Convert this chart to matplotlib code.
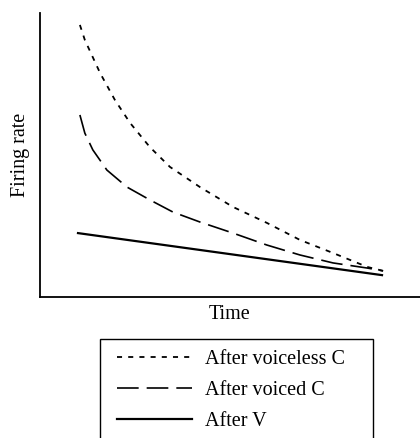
import matplotlib
matplotlib.use("Agg")
import matplotlib.pyplot as plt
from matplotlib.patches import Rectangle

# Data (arbitrary units, 0-100 scale)
voiceless_time = [10.5, 11.8, 15.8, 19.7, 23.7, 28.9, 34.2, 42.1, 50.8, 59.7, 68.4, 77.1, 86.1, 90.3]
voiceless_rate = [95.8, 90.5, 78.9, 69.4, 61.3, 52.8, 45.8, 38.7, 31.7, 26.1, 20.1, 15.5, 10.6, 9.2]
voiced_time = [10.5, 11.8, 13.9, 17.6, 22.9, 28.9, 35.0, 42.1, 50.8, 59.7, 68.4, 77.1, 86.1, 90.3]
voiced_rate = [64.1, 57.7, 51.8, 44.7, 38.7, 34.2, 29.9, 26.4, 22.5, 18.3, 14.8, 12.0, 10.2, 9.2]
vowel_time = [10.0, 90.0]
vowel_rate = [22.5, 7.7]
labels = ["After voiceless C", "After voiced C", "After V"]

plt.rcParams['font.family'] = ['Liberation Serif', 'DejaVu Serif']
FS = 14.5

fig = plt.figure(figsize=(4.2, 4.38), dpi=100)
ax = fig.add_axes([40/420, 141/438, 380/420, 284/438])

l1, = ax.plot(voiceless_time, voiceless_rate, color='black', lw=1.3,
              linestyle=(0, (2.8, 3.4)), label=labels[0])
l2, = ax.plot(voiced_time, voiced_rate, color='black', lw=1.2,
              linestyle=(0, (13, 4.8)), label=labels[1])
l3, = ax.plot(vowel_time, vowel_rate, color='black', lw=1.6,
              linestyle='-', label=labels[2])

ax.set_xlim(0, 100)
ax.set_ylim(0, 100)
ax.spines['top'].set_visible(False)
ax.spines['right'].set_visible(False)
ax.spines['left'].set_linewidth(1.3)
ax.spines['bottom'].set_linewidth(1.3)
ax.set_xticks([])
ax.set_yticks([])
ax.set_xlabel("Time", fontsize=FS, labelpad=6)
ax.set_ylabel("Firing rate", fontsize=FS, labelpad=7)

# legend frame (extends beyond the bottom edge, as in the reference)
fig.patches.append(Rectangle((100/420, -10/438), 273/420, (438 + 10 - 339)/438,
                             transform=fig.transFigure, fill=False,
                             edgecolor='black', lw=1.0))

leg = fig.legend(handles=[l1, l2, l3], labels=labels,
                 loc='upper left', bbox_to_anchor=(117/420, 1 - 350/438),
                 fontsize=FS, frameon=False, handlelength=3.7, handletextpad=0.65,
                 borderpad=0, labelspacing=0.6, borderaxespad=0)

fig.savefig("out.png", dpi=100)
